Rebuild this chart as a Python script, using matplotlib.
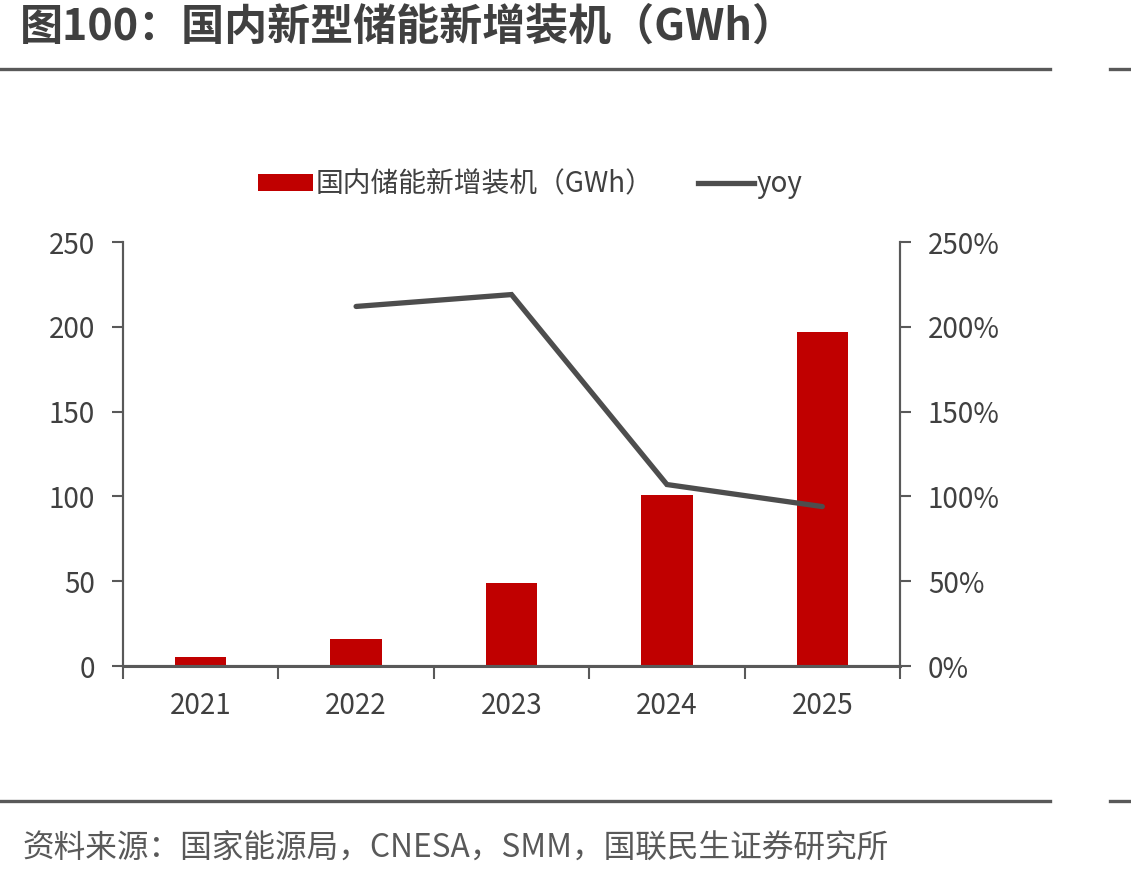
import matplotlib
matplotlib.use("Agg")
import matplotlib.pyplot as plt
from matplotlib.lines import Line2D
from matplotlib.patches import Patch

plt.rcParams['font.family'] = ['Noto Sans CJK SC', 'DejaVu Sans']

years = ["2021", "2022", "2023", "2024", "2025"]
installs = [5.5, 16, 49, 101, 197]
yoy_years = ["2022", "2023", "2024", "2025"]
yoy = [212, 219, 107, 94]
left_ticks = [0, 50, 100, 150, 200, 250]
right_ticks = [0, 50, 100, 150, 200, 250]

title = "图100：国内新型储能新增装机（GWh）"
source = "资料来源：国家能源局，CNESA，SMM，国联民生证券研究所"
bar_label = "国内储能新增装机（GWh）"
line_label = "yoy"

axis_col = "#595959"
text_col = "#404040"
bar_col = "#C00000"
line_col = "#4D4D4D"

fig = plt.figure(figsize=(11.31, 8.76), dpi=100)
ax = fig.add_axes([123/1131, 1-666/876, (900-123)/1131, (666-242)/876])
x = list(range(len(years)))
ax.bar(x, installs, width=0.33, color=bar_col, zorder=2)
ax.set_xlim(-0.5, len(years)-0.5)
ax.set_ylim(0, 250)
ax.set_yticks(left_ticks)
ax.set_yticklabels([str(t) for t in left_ticks])
ax.set_xticks(x)
ax.set_xticklabels(years)
ax.set_xticks([i - 0.5 for i in range(len(years)+1)], minor=True)
ax.tick_params(axis='x', which='major', length=0, pad=18, labelsize=20, labelcolor=text_col)
ax.tick_params(axis='x', which='minor', length=9, width=1.5, color=axis_col, direction='out')
ax.tick_params(axis='y', length=8, width=1.5, color=axis_col, direction='out', labelsize=20,
               labelcolor=text_col, pad=12)

ax2 = ax.twinx()
xi = [years.index(y) for y in yoy_years]
ax2.plot(xi, yoy, color=line_col, lw=3.8, solid_capstyle='round', solid_joinstyle='miter', zorder=3)
ax2.set_ylim(0, 250)
ax2.set_yticks(right_ticks)
ax2.set_yticklabels([f"{t}%" for t in right_ticks])
ax2.tick_params(axis='y', length=8, width=1.5, color=axis_col, direction='out', labelsize=20,
                labelcolor=text_col, pad=12)

for a in (ax, ax2):
    a.spines['top'].set_visible(False)
    for s in ('left', 'right', 'bottom'):
        a.spines[s].set_color(axis_col)
        a.spines[s].set_linewidth(1.5)
ax2.spines['bottom'].set_linewidth(2.2)

handles = [Patch(facecolor=bar_col, edgecolor='none', label=bar_label),
           Line2D([0], [0], color=line_col, lw=3.8, label=line_label)]
fig.legend(handles=handles, loc='center', bbox_to_anchor=(530/1131, 1-184/876), ncol=2,
           frameon=False, fontsize=20, handlelength=2.0, handleheight=0.55, handletextpad=0.1,
           columnspacing=1.6, labelcolor=text_col)

fig.text(20/1131, 1-27/876, title, fontsize=31, fontweight='bold', color=text_col,
         ha='left', va='center')
fig.text(22/1131, 1-848/876, source, fontsize=22.8, color='#595959', ha='left', va='center')

for yy in (1-69/876, 1-801/876):
    fig.add_artist(Line2D([0, 1050/1131], [yy, yy], color=axis_col, lw=2.4))
    fig.add_artist(Line2D([1110/1131, 1], [yy, yy], color=axis_col, lw=2.4))

fig.savefig("out.png", dpi=100)
